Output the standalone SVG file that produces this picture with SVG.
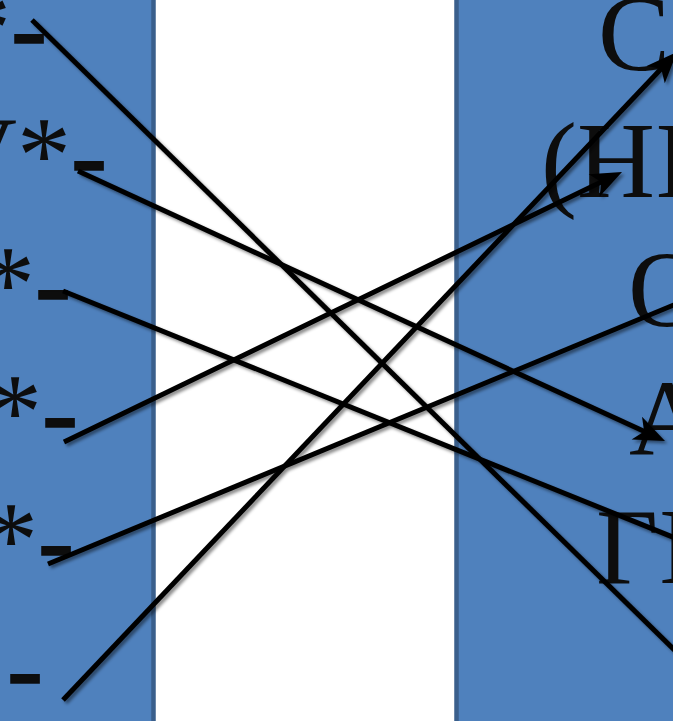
<svg xmlns="http://www.w3.org/2000/svg" width="673" height="721" viewBox="0 0 673 721">
  <style>
    .panel { fill: #4F81BD; stroke: #3A5F8C; stroke-width: 4.5; }
    .t { font-family: "Liberation Serif", "Times New Roman", serif; font-size: 108px; fill: #0D0D0D; }
    .d { stroke: #0D0D0D; stroke-width: 1.6; }
    .c { stroke: #000; stroke-width: 5; fill: none; stroke-linecap: butt; marker-end: url(#arr); }
  </style>
  <defs>
    <marker id="arr" markerUnits="userSpaceOnUse" markerWidth="40" markerHeight="30" viewBox="0 -15 32 30" refX="9" refY="0" orient="auto" overflow="visible">
      <path d="M31,0 L0,-12.5 L8,0 L0,12.5 Z" fill="#000"/>
    </marker>
    <filter id="sh" x="-10%" y="-10%" width="120%" height="120%">
      <feDropShadow dx="2.5" dy="2.5" stdDeviation="1.6" flood-color="#000" flood-opacity="0.45"/>
    </filter>
  </defs>

  <rect width="673" height="721" fill="#FFFFFF"/>

  <g id="left-column">
    <rect class="panel" x="-10" y="-10" width="163.5" height="741"/>
    <g id="left-1"><text class="t" x="-43" y="64">*<tspan class="d">-</tspan></text></g>
    <g id="left-2"><text class="t" x="-61" y="191">V*<tspan class="d">-</tspan></text></g>
    <g id="left-3"><text class="t" x="-19" y="320">*<tspan class="d">-</tspan></text></g>
    <g id="left-4"><text class="t" x="-12" y="448">*<tspan class="d">-</tspan></text></g>
    <g id="left-5"><text class="t" x="-16" y="576">*<tspan class="d">-</tspan></text></g>
    <g id="left-6"><text class="t" x="7" y="704"><tspan class="d">-</tspan></text></g>
  </g>

  <g id="right-column">
    <rect class="panel" x="456.5" y="-10" width="230" height="741"/>
    <g id="right-1"><text class="t" x="598" y="70">С</text></g>
    <g id="right-2"><text class="t" x="541" y="197">(НI</text></g>
    <g id="right-3"><text class="t" x="628" y="326">О</text></g>
    <g id="right-4"><text class="t" x="629" y="455">А</text></g>
    <g id="right-5"><text class="t" x="596" y="583">ГI</text></g>
  </g>

  <g id="connectors" filter="url(#sh)">
    <line class="c" x1="32" y1="20" x2="704" y2="679"/>
    <line class="c" x1="78" y1="171" x2="645" y2="431.8"/>
    <line class="c" x1="63" y1="291" x2="710" y2="552"/>
    <line class="c" x1="64" y1="442" x2="602.2" y2="181.6"/>
    <line class="c" x1="48" y1="564" x2="710" y2="290"/>
    <line class="c" x1="63" y1="700" x2="661.9" y2="68"/>
  </g>
</svg>
